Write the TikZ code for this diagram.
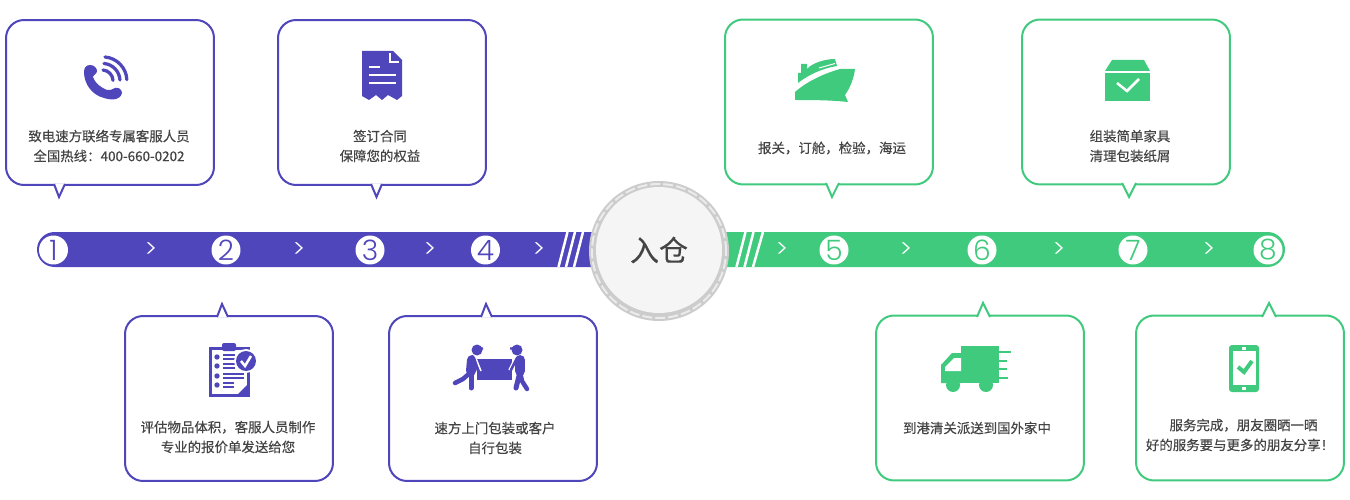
\documentclass[tikz,border=0pt]{standalone}
\usepackage{fontspec}
\setmainfont[FakeBold=0.35]{Noto Sans CJK SC}
\newfontfamily\digitfont{Poppins Light}
\usepackage{xcolor}
\usetikzlibrary{positioning}
\definecolor{pur}{HTML}{5046BC}
\definecolor{grn}{HTML}{40CA7D}
\definecolor{txt}{HTML}{444444}
\tikzstyle{purbox} = [rectangle, rounded corners=0.36cm, minimum width=4.16cm, minimum height=3.3cm, draw=pur, line width=0.04cm, fill=white]
\tikzstyle{grnbox} = [purbox, draw=grn]
\tikzstyle{purtail} = [draw=pur, line width=0.04cm, fill=white]
\tikzstyle{grntail} = [purtail, draw=grn]
\tikzstyle{boxtext} = [align=center, text=txt, font=\fontsize{7.65}{11.3}\selectfont]
\tikzstyle{purnum} = [circle, fill=white, inner sep=0pt, minimum size=0.58cm, text=pur, font=\digitfont\fontsize{16}{16}\selectfont]
\tikzstyle{grnnum} = [purnum, text=grn]
\tikzstyle{chevron} = [text=white, inner sep=0pt, font=\digitfont\fontsize{14}{14}\selectfont]
\tikzstyle{slash} = [white, line width=0.05cm]

\begin{document}
\begin{tikzpicture}[x=0.02cm, y=-0.02cm]
  \useasboundingbox (0,0) rectangle (1350,500);

  % Bar
  \fill[pur] (600,232) -- (54.5,232) arc[start angle=-90, end angle=-270, radius=17.5] -- (600,267) -- cycle;
  \fill[grn] (720,232) -- (1267.5,232) arc[start angle=-90, end angle=90, radius=17.5] -- (720,267) -- cycle;
  \draw[slash] (558.5,267) -- (567.5,232);
  \draw[slash] (566,267) -- (575,232);
  \draw[slash] (574,267) -- (583,232);
  \draw[slash] (736.5,267) -- (745.5,232);
  \draw[slash] (744.5,267) -- (753.5,232);
  \draw[slash] (753,267) -- (763,232);

  % Warehouse circle
  \node[circle, fill=black!20, minimum size=2.8cm, inner sep=0pt] (hub) at (659,251) {};
  \node[circle, draw=black!8, line width=0.04cm, dash pattern=on 0.2cm off 0.06cm, minimum size=2.68cm, inner sep=0pt] (hubdash) at (659,251) {};
  \node[circle, fill=black!4, minimum size=2.52cm, inner sep=0pt, text=txt, font=\fontsize{16.5}{16.5}\selectfont] (hubtext) at (659,250) {入仓};

  % Numbers
  \node[purnum] (n1) at (53.5,250) {1};
  \node[purnum] (n2) at (226,250) {2};
  \node[purnum] (n3) at (370,250) {3};
  \node[purnum] (n4) at (485.5,250) {4};
  \node[grnnum] (n5) at (834,250) {5};
  \node[grnnum] (n6) at (982,250) {6};
  \node[grnnum] (n7) at (1133,250) {7};
  \node[grnnum] (n8) at (1268,250) {8};

  % Chevrons
  \node[chevron] (c1) at (151,250) {>};
  \node[chevron] (c2) at (299,250) {>};
  \node[chevron] (c3) at (430,250) {>};
  \node[chevron] (c4) at (539,250) {>};
  \node[chevron] (c5) at (782,250) {>};
  \node[chevron] (c6) at (906,250) {>};
  \node[chevron] (c7) at (1059,250) {>};
  \node[chevron] (c8) at (1209,250) {>};

  % Boxes
  \node[purbox] (call) at (110,102.5) {};
  \node[purbox] (sign) at (382,102.5) {};
  \node[purbox] (quote) at (229,398.5) {};
  \node[purbox] (pack) at (493,398.5) {};
  \node[grnbox] (ship) at (829,102) {};
  \node[grnbox] (setup) at (1126,102) {};
  \node[grnbox] (truck) at (980,398) {};
  \node[grnbox] (share) at (1240,398) {};

  % Tails
  \filldraw[purtail] (54,184) -- (59,197) -- (65,184);
  \filldraw[purtail] (371,184) -- (376.5,197) -- (382,184);
  \filldraw[purtail] (217,317) -- (222,304) -- (228,317);
  \filldraw[purtail] (481,317) -- (486,304) -- (492,317);
  \filldraw[grntail] (826,183) -- (832,197) -- (839,183);
  \filldraw[grntail] (1122,183) -- (1129,197) -- (1136,183);
  \filldraw[grntail] (977,317) -- (983,303) -- (990,317);
  \filldraw[grntail] (1262,317) -- (1269,303) -- (1276,317);

  % Texts
  \node[boxtext] (calltext) at (109,146) {致电速方联络专属客服人员\\全国热线：400-660-0202};
  \node[boxtext] (signtext) at (380,146) {签订合同\\保障您的权益};
  \node[boxtext] (quotetext) at (228,437) {评估物品体积，客服人员制作\\专业的报价单发送给您};
  \node[boxtext] (packtext) at (495,438) {速方上门包装或客户\\自行包装};
  \node[boxtext] (shiptext) at (832,148) {报关，订舱，检验，海运};
  \node[boxtext] (setuptext) at (1130,146) {组装简单家具\\清理包装纸屑};
  \node[boxtext] (trucktext) at (977,428) {到港清关派送到国外家中};
  \node[boxtext] (sharetext) at (1240,435) {\hspace*{0.14cm}服务完成，朋友圈晒一晒\\好的服务要与更多的朋友分享！};

  % Icon: phone
  \fill[pur] (90,65) .. controls (86,65) and (84,68) .. (84,72) .. controls (84,84) and (92,95) .. (104,98) .. controls (110,100) and (120,101) .. (122,93) .. controls (122,89) and (118,87) .. (115,88) .. controls (112,89) and (110,91) .. (107,90) .. controls (100,87) and (95,83) .. (93,77) .. controls (93,75) and (97,74) .. (97,71) .. controls (97,68) and (94,65) .. (90,65) -- cycle;
  \draw[pur, line width=0.065cm, line cap=round] (105,57) arc[start angle=-85, end angle=-3, radius=24];
  \draw[pur, line width=0.065cm, line cap=round] (104,63.5) arc[start angle=-85, end angle=-3, radius=17.5];
  \draw[pur, line width=0.065cm, line cap=round] (103,70) arc[start angle=-85, end angle=-3, radius=11];

  % Icon: contract
  \fill[pur] (362,51) -- (393,51) -- (402,60) -- (402,96) -- (397,100) -- (388,95) -- (382,100) -- (376,95) -- (369,100) -- (362,96) -- cycle;
  \draw[white, line width=0.04cm] (390,53) -- (390,62) -- (399,62);
  \draw[white, line width=0.04cm] (369,67) -- (380,67);
  \draw[white, line width=0.04cm] (369,75) -- (396,75);
  \draw[white, line width=0.04cm] (369,83) -- (396,83);

  % Icon: checklist
  \draw[pur, line width=0.06cm] (210,348.5) rectangle (248,395);
  \fill[pur, rounded corners=0.04cm] (222,343) rectangle (236,351);
  \fill[pur] (248,396) -- (236,396) -- (248,384) -- cycle;
  \fill[pur] (217,357) circle (2.7);
  \fill[pur] (217,366) circle (2.7);
  \fill[pur] (217,376) circle (2.7);
  \fill[pur] (217,385) circle (2.7);
  \draw[pur, line width=0.025cm] (223,355) -- (235,355);
  \draw[pur, line width=0.025cm] (223,359) -- (235,359);
  \draw[pur, line width=0.025cm] (223,364) -- (235,364);
  \draw[pur, line width=0.025cm] (223,368) -- (235,368);
  \draw[pur, line width=0.025cm] (223,374) -- (244,374);
  \draw[pur, line width=0.025cm] (223,378) -- (244,378);
  \draw[pur, line width=0.025cm] (223,383) -- (234,383);
  \draw[pur, line width=0.025cm] (223,387) -- (234,387);
  \fill[white] (246,361) circle (12);
  \fill[pur] (246,361) circle (10);
  \draw[white, line width=0.05cm] (241,361) -- (245,366) -- (251,356);

  % Icon: movers
  \fill[pur] (477,359) rectangle (512,380);
  \fill[pur] (477,350) circle (5.5);
  \fill[pur] (473,346) -- (483,347.5) -- (483,349.5) -- (473,350) -- cycle;
  \fill[pur] (517,350) circle (5.5);
  \fill[pur] (521,346) -- (510,347.5) -- (510,349.5) -- (521,350) -- cycle;
  \draw[pur, line width=0.2cm, line cap=round, line join=round] (472,360) -- (471,371);
  \draw[pur, line width=0.1cm, line cap=round, line join=round] (471,372) -- (471,388);
  \draw[pur, line width=0.09cm, line cap=round, line join=round] (471,372) -- (463,379) -- (455,383);
  \draw[white, line width=0.03cm] (475,356) -- (481,371);
  \draw[pur, line width=0.05cm, line cap=round, line join=round] (474,358) -- (478,371);
  \draw[pur, line width=0.2cm, line cap=round, line join=round] (520,360) -- (520,371);
  \draw[pur, line width=0.1cm, line cap=round, line join=round] (520,372) -- (516,388);
  \draw[pur, line width=0.09cm, line cap=round, line join=round] (520,372) -- (522,381) -- (527,389);
  \draw[white, line width=0.03cm] (516,356) -- (509,370);
  \draw[pur, line width=0.05cm, line cap=round, line join=round] (517,358) -- (511,370);

  % Icon: ship
  \fill[grn] (795,92) .. controls (805,83) and (822,74) .. (840,69) -- (855,69) .. controls (854,78) and (850,88) .. (845,95) -- (848,102) .. controls (830,100) and (810,100) .. (795,100) -- cycle;
  \fill[grn] (798,83) -- (798,73) -- (801,73) -- (801,64) -- (807,64) -- (807,69) .. controls (812,63) and (825,59) .. (835,59) -- (837,66) .. controls (823,68) and (808,75) .. (798,83) -- cycle;
  \draw[white, line width=0.02cm] (819,68) -- (835,63.5);

  % Icon: parcel
  \fill[grn] (1112,60) -- (1144,60) -- (1150,71) -- (1105,71) -- cycle;
  \fill[grn] (1105,73) rectangle (1150,101);
  \draw[white, line width=0.05cm] (1117,83) -- (1127,91) -- (1139,79);

  % Icon: truck
  \fill[grn] (961,346) rectangle (999,383);
  \fill[grn] (941,383) -- (941,365) -- (952,353) -- (961,353) -- (961,383) -- cycle;
  \fill[white] (945,371) -- (945,367) -- (954,358) -- (961,358) -- (961,371) -- cycle;
  \fill[grn] (953,385) circle (7);
  \fill[grn] (986,385) circle (7);
  \draw[grn, line width=0.05cm] (999,352) -- (1011,352);
  \draw[grn, line width=0.05cm] (999,361) -- (1007,361);
  \draw[grn, line width=0.05cm] (999,369) -- (1007,369);
  \draw[grn, line width=0.05cm] (999,378) -- (1008,378);

  % Icon: mobile
  \fill[grn, rounded corners=0.06cm] (1229,345) rectangle (1259,392);
  \fill[white] (1233,351) rectangle (1256,385);
  \fill[white] (1242,346.5) rectangle (1246,349.5);
  \fill[white] (1242,386.5) rectangle (1246,389.5);
  \draw[grn, line width=0.08cm] (1238,367) -- (1244,372) -- (1252,361);

\end{tikzpicture}
\end{document}
